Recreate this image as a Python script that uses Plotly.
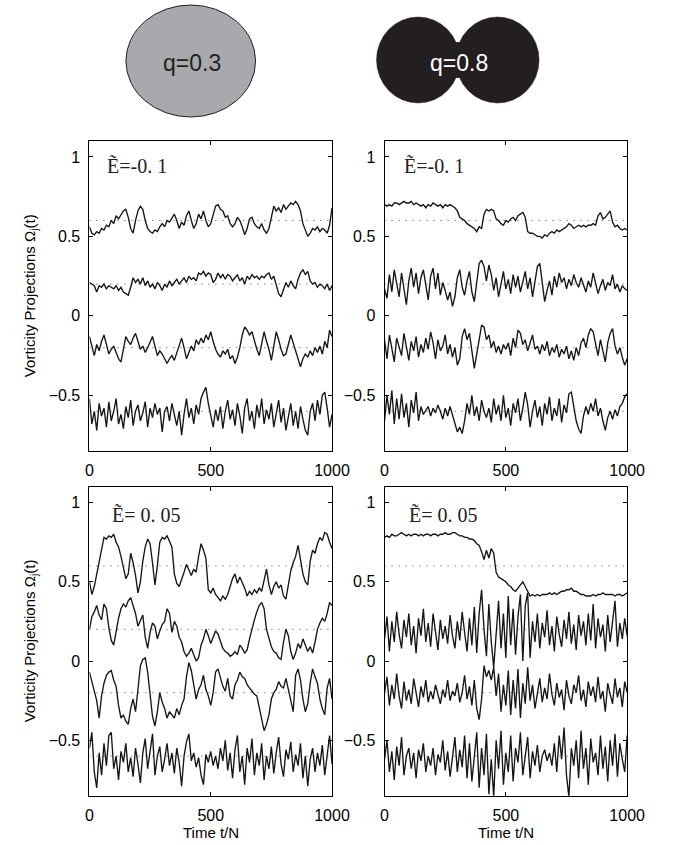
import plotly.graph_objects as go

# ---------------- data ----------------
t = list(range(0, 1001, 10))
means = [0.6, 0.2, -0.2, -0.6]
ytick_vals = [1, 0.5, 0, -0.5]
ytick_text = ["1", "0.5", "0", "\u22120.5"]
xtick_vals = [0, 500, 1000]
panel_labels = ["Ẽ=-0. 1", "Ẽ=-0. 1", "Ẽ= 0. 05", "Ẽ= 0. 05"]
shape_labels = ["q=0.3", "q=0.8"]

tl_a = [0.56,0.52,0.51,0.53,0.52,0.55,0.54,0.57,0.56,0.60,0.58,0.63,0.61,0.64,0.66,0.67,0.62,0.55,0.52,0.60,
        0.66,0.69,0.67,0.60,0.55,0.53,0.52,0.54,0.53,0.56,0.58,0.56,0.60,0.59,0.62,0.64,0.60,0.55,0.59,0.57,
        0.63,0.66,0.60,0.55,0.58,0.64,0.61,0.66,0.60,0.56,0.58,0.63,0.69,0.70,0.67,0.66,0.62,0.63,0.58,0.56,
        0.58,0.62,0.60,0.56,0.51,0.55,0.61,0.62,0.58,0.56,0.55,0.58,0.54,0.52,0.55,0.62,0.69,0.66,0.68,0.65,
        0.70,0.67,0.69,0.71,0.70,0.72,0.70,0.66,0.58,0.54,0.50,0.52,0.55,0.54,0.56,0.53,0.55,0.54,0.52,0.57,0.68]
tl_b = [0.21,0.20,0.19,0.15,0.19,0.18,0.20,0.17,0.19,0.18,0.17,0.19,0.16,0.18,0.15,0.14,0.13,0.18,0.24,0.21,
        0.23,0.20,0.24,0.19,0.22,0.18,0.20,0.17,0.21,0.19,0.16,0.20,0.18,0.22,0.19,0.21,0.23,0.20,0.22,0.24,
        0.21,0.25,0.23,0.24,0.22,0.27,0.26,0.28,0.25,0.27,0.26,0.21,0.23,0.27,0.24,0.26,0.23,0.26,0.25,0.22,
        0.24,0.26,0.22,0.24,0.20,0.25,0.23,0.26,0.24,0.25,0.23,0.25,0.24,0.26,0.27,0.23,0.25,0.20,0.14,0.12,
        0.17,0.21,0.18,0.22,0.19,0.17,0.23,0.27,0.29,0.26,0.28,0.22,0.20,0.21,0.18,0.20,0.19,0.17,0.20,0.16,0.19]
tl_c = [-0.13,-0.20,-0.25,-0.18,-0.22,-0.16,-0.12,-0.18,-0.24,-0.21,-0.19,-0.23,-0.27,-0.29,-0.20,-0.13,-0.16,-0.18,-0.14,-0.11,
        -0.16,-0.21,-0.19,-0.23,-0.20,-0.16,-0.13,-0.19,-0.25,-0.22,-0.24,-0.27,-0.30,-0.27,-0.25,-0.28,-0.23,-0.19,-0.14,-0.20,
        -0.27,-0.23,-0.19,-0.22,-0.15,-0.18,-0.14,-0.17,-0.12,-0.15,-0.10,-0.16,-0.21,-0.24,-0.26,-0.22,-0.24,-0.21,-0.27,-0.25,
        -0.30,-0.26,-0.20,-0.12,-0.07,-0.09,-0.12,-0.10,-0.16,-0.21,-0.25,-0.17,-0.10,-0.16,-0.21,-0.28,-0.20,-0.10,-0.15,-0.21,
        -0.25,-0.24,-0.18,-0.12,-0.17,-0.22,-0.27,-0.32,-0.27,-0.24,-0.26,-0.22,-0.25,-0.20,-0.23,-0.19,-0.24,-0.16,-0.20,-0.09,-0.13]
tl_d = [-0.52,-0.68,-0.60,-0.72,-0.55,-0.63,-0.58,-0.70,-0.54,-0.66,-0.60,-0.52,-0.68,-0.62,-0.71,-0.57,-0.64,-0.53,-0.69,-0.60,
        -0.56,-0.66,-0.61,-0.54,-0.70,-0.58,-0.64,-0.55,-0.62,-0.58,-0.73,-0.60,-0.57,-0.66,-0.55,-0.62,-0.69,-0.60,-0.75,-0.62,
        -0.52,-0.64,-0.58,-0.68,-0.56,-0.62,-0.52,-0.48,-0.45,-0.55,-0.63,-0.70,-0.59,-0.66,-0.57,-0.71,-0.60,-0.53,-0.65,-0.59,
        -0.69,-0.55,-0.63,-0.74,-0.58,-0.52,-0.66,-0.60,-0.71,-0.56,-0.64,-0.52,-0.68,-0.59,-0.65,-0.55,-0.70,-0.60,-0.53,-0.67,
        -0.58,-0.72,-0.62,-0.55,-0.69,-0.60,-0.71,-0.57,-0.65,-0.72,-0.75,-0.60,-0.55,-0.66,-0.53,-0.62,-0.50,-0.48,-0.58,-0.70,-0.62]

tr_a = [0.70,0.69,0.70,0.69,0.71,0.71,0.70,0.71,0.72,0.71,0.71,0.72,0.70,0.71,0.70,0.69,0.70,0.68,0.70,0.69,
        0.71,0.70,0.69,0.70,0.68,0.70,0.69,0.70,0.69,0.68,0.66,0.62,0.61,0.60,0.58,0.57,0.56,0.55,0.53,0.56,
        0.55,0.64,0.67,0.66,0.67,0.66,0.61,0.60,0.58,0.57,0.60,0.59,0.61,0.62,0.60,0.63,0.64,0.65,0.62,0.53,
        0.52,0.52,0.51,0.50,0.50,0.49,0.51,0.50,0.52,0.53,0.52,0.54,0.53,0.54,0.55,0.56,0.58,0.57,0.55,0.56,
        0.57,0.56,0.57,0.56,0.57,0.57,0.58,0.57,0.63,0.65,0.61,0.62,0.64,0.66,0.59,0.56,0.57,0.55,0.54,0.55,0.54]
tr_b = [0.17,0.11,0.26,0.15,0.29,0.20,0.12,0.27,0.16,0.07,0.22,0.30,0.18,0.27,0.14,0.24,0.29,0.19,0.10,0.25,
        0.30,0.17,0.27,0.13,0.21,0.16,0.10,0.15,0.06,0.12,0.24,0.29,0.18,0.13,0.22,0.28,0.15,0.09,0.20,0.33,
        0.35,0.31,0.22,0.32,0.26,0.16,0.24,0.12,0.20,0.28,0.17,0.23,0.14,0.26,0.18,0.25,0.15,0.21,0.28,0.17,
        0.24,0.12,0.22,0.31,0.33,0.20,0.09,0.16,0.22,0.13,0.25,0.18,0.27,0.21,0.24,0.17,0.23,0.19,0.26,0.21,
        0.18,0.24,0.20,0.15,0.22,0.18,0.27,0.20,0.14,0.19,0.23,0.16,0.21,0.19,0.26,0.17,0.20,0.15,0.19,0.17,0.16]
tr_c = [-0.15,-0.27,-0.12,-0.22,-0.29,-0.14,-0.20,-0.25,-0.11,-0.19,-0.28,-0.16,-0.22,-0.13,-0.26,-0.18,-0.23,-0.14,-0.21,-0.10,
        -0.17,-0.27,-0.15,-0.22,-0.19,-0.12,-0.24,-0.18,-0.26,-0.20,-0.31,-0.27,-0.13,-0.08,-0.15,-0.11,-0.22,-0.33,-0.24,-0.14,
        -0.06,-0.07,-0.15,-0.12,-0.20,-0.16,-0.23,-0.19,-0.24,-0.18,-0.21,-0.17,-0.25,-0.14,-0.20,-0.09,-0.11,-0.18,-0.15,-0.22,
        -0.17,-0.12,-0.21,-0.19,-0.24,-0.18,-0.22,-0.16,-0.25,-0.20,-0.23,-0.18,-0.26,-0.21,-0.24,-0.19,-0.27,-0.22,-0.28,-0.20,
        -0.25,-0.17,-0.14,-0.20,-0.12,-0.08,-0.10,-0.18,-0.25,-0.15,-0.22,-0.29,-0.17,-0.11,-0.08,-0.19,-0.24,-0.20,-0.26,-0.31,-0.27]
tr_d = [-0.66,-0.50,-0.62,-0.47,-0.68,-0.52,-0.65,-0.49,-0.64,-0.55,-0.70,-0.53,-0.61,-0.48,-0.66,-0.57,-0.62,-0.59,-0.57,-0.63,
        -0.58,-0.61,-0.56,-0.60,-0.65,-0.58,-0.63,-0.57,-0.62,-0.68,-0.73,-0.70,-0.74,-0.66,-0.55,-0.62,-0.50,-0.63,-0.57,-0.66,
        -0.53,-0.60,-0.64,-0.58,-0.67,-0.52,-0.62,-0.56,-0.66,-0.50,-0.64,-0.58,-0.69,-0.55,-0.61,-0.52,-0.66,-0.58,-0.48,-0.56,
        -0.70,-0.60,-0.53,-0.64,-0.57,-0.69,-0.55,-0.62,-0.51,-0.66,-0.58,-0.63,-0.52,-0.67,-0.56,-0.61,-0.49,-0.48,-0.58,-0.66,
        -0.71,-0.74,-0.63,-0.57,-0.62,-0.55,-0.60,-0.52,-0.63,-0.58,-0.66,-0.72,-0.64,-0.60,-0.65,-0.59,-0.63,-0.57,-0.55,-0.51,-0.49]

bl_a = [0.50,0.42,0.47,0.55,0.62,0.72,0.78,0.77,0.79,0.78,0.80,0.75,0.72,0.66,0.58,0.52,0.55,0.68,0.62,0.54,
        0.43,0.50,0.63,0.72,0.77,0.74,0.62,0.48,0.60,0.75,0.78,0.77,0.79,0.76,0.72,0.55,0.49,0.47,0.51,0.56,
        0.61,0.57,0.54,0.58,0.56,0.66,0.74,0.70,0.65,0.45,0.43,0.46,0.42,0.40,0.38,0.41,0.39,0.42,0.47,0.52,
        0.55,0.49,0.53,0.50,0.46,0.41,0.44,0.42,0.45,0.43,0.46,0.44,0.52,0.58,0.48,0.42,0.47,0.50,0.46,0.48,
        0.41,0.39,0.48,0.57,0.62,0.66,0.73,0.64,0.55,0.50,0.48,0.63,0.70,0.68,0.74,0.78,0.76,0.81,0.80,0.75,0.71]
bl_b = [0.20,0.28,0.31,0.35,0.29,0.26,0.36,0.33,0.21,0.13,0.10,0.20,0.27,0.33,0.36,0.34,0.38,0.40,0.35,0.30,
        0.22,0.25,0.29,0.15,0.08,0.18,0.24,0.22,0.14,0.19,0.23,0.25,0.33,0.30,0.18,0.25,0.22,0.15,0.12,0.06,
        0.03,0.05,0.08,0.04,0.00,0.02,0.10,0.14,0.20,0.16,0.11,0.15,0.19,0.17,0.13,0.08,0.06,0.05,0.03,0.04,
        0.06,0.04,0.10,0.08,0.05,0.07,0.14,0.21,0.26,0.31,0.35,0.37,0.33,0.20,0.15,0.09,0.06,0.05,0.02,0.01,
        0.12,0.20,0.16,0.06,0.01,0.05,0.11,0.08,0.14,0.10,0.06,0.09,0.05,0.12,0.20,0.24,0.27,0.25,0.30,0.37,0.35]
bl_c = [-0.07,-0.13,-0.20,-0.25,-0.36,-0.22,-0.14,-0.09,-0.07,-0.06,-0.12,-0.16,-0.28,-0.36,-0.34,-0.38,-0.40,-0.30,-0.24,-0.32,
        -0.18,-0.03,0.01,0.02,-0.07,-0.22,-0.35,-0.41,-0.32,-0.20,-0.26,-0.30,-0.36,-0.32,-0.34,-0.36,-0.30,-0.34,-0.28,-0.24,
        -0.10,-0.01,-0.06,-0.14,-0.24,-0.18,-0.15,-0.09,-0.18,-0.22,-0.28,-0.20,-0.07,-0.05,-0.11,-0.16,-0.19,-0.11,-0.22,-0.24,
        -0.15,-0.12,-0.07,-0.10,-0.11,-0.15,-0.17,-0.19,-0.21,-0.22,-0.30,-0.36,-0.44,-0.40,-0.34,-0.24,-0.20,-0.18,-0.13,-0.16,
        -0.17,-0.11,-0.18,-0.24,-0.32,-0.09,-0.05,-0.12,-0.24,-0.32,-0.27,-0.14,-0.05,-0.10,-0.14,-0.24,-0.30,-0.34,-0.17,-0.11,-0.24]
bl_d = [-0.55,-0.45,-0.70,-0.80,-0.58,-0.72,-0.52,-0.66,-0.47,-0.45,-0.68,-0.60,-0.75,-0.57,-0.64,-0.52,-0.70,-0.61,-0.73,-0.55,
        -0.65,-0.77,-0.58,-0.49,-0.68,-0.56,-0.46,-0.72,-0.60,-0.54,-0.70,-0.62,-0.52,-0.66,-0.58,-0.71,-0.55,-0.64,-0.79,-0.60,
        -0.51,-0.46,-0.63,-0.58,-0.67,-0.61,-0.72,-0.78,-0.59,-0.64,-0.57,-0.66,-0.60,-0.68,-0.55,-0.63,-0.50,-0.69,-0.58,-0.74,
        -0.56,-0.47,-0.70,-0.60,-0.78,-0.55,-0.64,-0.49,-0.72,-0.58,-0.66,-0.52,-0.75,-0.60,-0.68,-0.54,-0.71,-0.58,-0.48,-0.65,
        -0.73,-0.56,-0.62,-0.51,-0.70,-0.59,-0.66,-0.52,-0.74,-0.60,-0.79,-0.62,-0.55,-0.70,-0.58,-0.66,-0.53,-0.72,-0.60,-0.47,-0.65]

br_a = [0.78,0.79,0.78,0.80,0.79,0.79,0.80,0.81,0.80,0.79,0.80,0.79,0.80,0.80,0.79,0.80,0.79,0.80,0.80,0.79,
        0.80,0.80,0.79,0.80,0.80,0.81,0.80,0.80,0.81,0.81,0.80,0.79,0.79,0.78,0.78,0.77,0.77,0.76,0.74,0.73,
        0.69,0.64,0.70,0.65,0.71,0.68,0.56,0.53,0.52,0.51,0.50,0.48,0.47,0.45,0.44,0.46,0.48,0.50,0.47,0.44,
        0.41,0.42,0.41,0.42,0.41,0.42,0.42,0.42,0.43,0.42,0.43,0.42,0.43,0.44,0.44,0.45,0.45,0.46,0.44,0.44,
        0.43,0.42,0.42,0.41,0.41,0.41,0.42,0.41,0.42,0.42,0.43,0.42,0.42,0.42,0.42,0.41,0.42,0.42,0.41,0.42,0.43]
br_b = [0.14,0.28,0.06,0.25,0.12,0.31,0.17,0.08,0.26,0.15,0.30,0.10,0.22,0.05,0.27,0.16,0.33,0.12,0.24,0.09,
        0.30,0.18,0.07,0.26,0.14,0.22,0.11,0.29,0.16,0.08,0.25,0.13,0.31,0.18,0.06,0.27,0.10,0.34,0.05,0.30,
        0.45,0.20,0.03,0.36,0.12,-0.04,0.15,0.38,0.08,0.30,0.02,0.41,0.10,0.33,0.04,0.28,0.42,0.00,0.35,0.43,
        0.02,0.25,0.12,0.30,0.08,0.24,0.15,0.32,0.10,0.22,0.06,0.28,0.17,0.09,0.26,0.14,0.31,0.11,0.23,0.07,
        0.29,0.16,0.25,0.10,0.30,0.13,0.36,0.08,0.27,0.15,0.23,0.06,0.29,0.12,0.25,0.38,0.09,0.24,0.14,0.27,0.16]
br_c = [-0.20,-0.10,-0.28,-0.15,-0.24,-0.08,-0.22,-0.30,-0.13,-0.25,-0.18,-0.27,-0.11,-0.21,-0.29,-0.16,-0.23,-0.12,-0.26,-0.19,
        -0.24,-0.15,-0.21,-0.27,-0.18,-0.23,-0.12,-0.25,-0.19,-0.22,-0.14,-0.26,-0.20,-0.09,-0.24,-0.16,-0.28,-0.12,-0.30,-0.37,
        -0.24,-0.03,-0.10,-0.06,-0.12,-0.04,-0.22,-0.08,-0.32,-0.15,-0.28,-0.06,-0.34,-0.12,-0.30,-0.05,-0.36,-0.14,-0.27,-0.04,
        -0.25,-0.15,-0.30,-0.19,-0.11,-0.26,-0.17,-0.24,-0.08,-0.21,-0.28,-0.14,-0.23,-0.18,-0.31,-0.12,-0.22,-0.27,-0.15,-0.20,
        -0.09,-0.25,-0.18,-0.29,-0.13,-0.22,-0.16,-0.26,-0.10,-0.24,-0.19,-0.32,-0.14,-0.21,-0.27,-0.11,-0.23,-0.17,-0.29,-0.13,-0.20]
br_d = [-0.62,-0.50,-0.70,-0.57,-0.75,-0.54,-0.66,-0.48,-0.72,-0.60,-0.55,-0.68,-0.58,-0.74,-0.56,-0.63,-0.52,-0.70,-0.60,-0.66,
        -0.55,-0.72,-0.59,-0.64,-0.50,-0.69,-0.57,-0.73,-0.61,-0.48,-0.70,-0.56,-0.67,-0.47,-0.74,-0.52,-0.76,-0.58,-0.45,-0.80,
        -0.55,-0.72,-0.46,-0.84,-0.62,-0.86,-0.50,-0.68,-0.44,-0.78,-0.58,-0.70,-0.47,-0.76,-0.55,-0.64,-0.45,-0.72,-0.60,-0.48,
        -0.74,-0.57,-0.66,-0.53,-0.70,-0.60,-0.56,-0.63,-0.58,-0.66,-0.52,-0.70,-0.47,-0.62,-0.42,-0.72,-0.86,-0.55,-0.66,-0.50,
        -0.74,-0.44,-0.68,-0.55,-0.78,-0.49,-0.64,-0.58,-0.72,-0.47,-0.68,-0.54,-0.76,-0.50,-0.66,-0.46,-0.73,-0.52,-0.62,-0.70,-0.47]

panels = [
    [tl_a, tl_b, tl_c, tl_d],
    [tr_a, tr_b, tr_c, tr_d],
    [bl_a, bl_b, bl_c, bl_d],
    [br_a, br_b, br_c, br_d],
]

# ---------------- layout geometry (pixels) ----------------
W, H = 679, 845
px = lambda x: x / W
py = lambda y: 1 - y / H
col_x = [(88.3, 339.0), (393.3, 644.0)]
row_y = [(141.0, 451.0), (486.7, 795.7)]

fig = go.Figure()
LINE = "#151515"
FONT = "Liberation Sans, Arial, Helvetica, sans-serif"

for i, series in enumerate(panels):
    r, c = divmod(i, 2)
    xa = "x" if i == 0 else f"x{i+1}"
    ya = "y" if i == 0 else f"y{i+1}"
    for m in means:
        fig.add_trace(go.Scatter(x=[0, 1000], y=[m, m], mode="lines",
                                 line=dict(color="#444444", width=1, dash="1px,6px"),
                                 xaxis=xa, yaxis=ya, hoverinfo="skip", showlegend=False))
    for s in series:
        fig.add_trace(go.Scatter(x=t, y=s, mode="lines",
                                 line=dict(color=LINE, width=1.35),
                                 xaxis=xa, yaxis=ya, showlegend=False))

    x0, x1 = col_x[c]
    yt, yb = row_y[r]
    axx = dict(domain=[px(x0), px(x1)], range=[0, 1000], tickvals=xtick_vals,
               ticks="inside", ticklen=4, tickcolor="black", mirror="ticks",
               showline=True, linecolor="black", linewidth=1, showgrid=False, zeroline=False,
               tickfont=dict(family=FONT, size=16, color="black"), ticklabelstandoff=5,
               anchor=ya)
    axy = dict(domain=[py(yb), py(yt)], range=[-0.85, 1.1], tickvals=ytick_vals, ticktext=ytick_text,
               ticks="inside", ticklen=4, tickcolor="black", mirror="ticks",
               showline=True, linecolor="black", linewidth=1, showgrid=False, zeroline=False,
               tickfont=dict(family=FONT, size=16, color="black"), ticklabelstandoff=5,
               anchor=xa)
    fig.layout["xaxis" if i == 0 else f"xaxis{i+1}"] = axx
    fig.layout["yaxis" if i == 0 else f"yaxis{i+1}"] = axy

annotations = []
label_pos = [(104, 166), (411, 166), (110, 514), (416, 514)]
for (lx, ly), txt in zip(label_pos, panel_labels):
    annotations.append(dict(x=px(lx), y=py(ly), xref="paper", yref="paper", text=txt,
                            showarrow=False, xanchor="left", yanchor="middle",
                            font=dict(family="Liberation Serif, DejaVu Serif, serif", size=20, color="#222")))
for (yt, yb) in row_y:
    annotations.append(dict(x=px(27), y=py((yt + yb) / 2), xref="paper", yref="paper",
                            text="Vorticity Projections Ω<sub>j</sub>(t)", textangle=-90,
                            showarrow=False, xanchor="center", yanchor="middle",
                            font=dict(family=FONT, size=15, color="black")))
for (x0, x1) in col_x:
    annotations.append(dict(x=px((x0 + x1) / 2), y=py(832), xref="paper", yref="paper",
                            text="Time t/N", showarrow=False, xanchor="center", yanchor="middle",
                            font=dict(family=FONT, size=15, color="black")))
annotations.append(dict(x=px(194), y=py(63), xref="paper", yref="paper", text=shape_labels[0],
                        showarrow=False, xanchor="center", yanchor="middle",
                        font=dict(family=FONT, size=23, color="#231f20")))
annotations.append(dict(x=px(470), y=py(63), xref="paper", yref="paper", text=shape_labels[1],
                        showarrow=False, xanchor="center", yanchor="middle",
                        font=dict(family=FONT, size=23, color="white")))

shapes = [
    dict(type="circle", xref="paper", yref="paper", x0=px(126), x1=px(260), y0=py(117), y1=py(5),
         fillcolor="#a7a9ac", line=dict(color="#231f20", width=1), layer="below"),
    dict(type="circle", xref="paper", yref="paper", x0=px(385), x1=px(471), y0=py(103), y1=py(17),
         fillcolor="#231f20", line=dict(color="#231f20", width=0.5), layer="below"),
    dict(type="circle", xref="paper", yref="paper", x0=px(467), x1=px(553), y0=py(103), y1=py(17),
         fillcolor="#231f20", line=dict(color="#231f20", width=0.5), layer="below"),
    dict(type="circle", xref="paper", yref="paper", x0=px(460), x1=px(478), y0=py(78), y1=py(42),
         fillcolor="#231f20", line=dict(color="#231f20", width=0), layer="below"),
]

fig.update_layout(width=W, height=H, margin=dict(l=0, r=0, t=0, b=0),
                  paper_bgcolor="white", plot_bgcolor="white",
                  annotations=annotations, shapes=shapes, showlegend=False)

fig.write_html("out.html")
